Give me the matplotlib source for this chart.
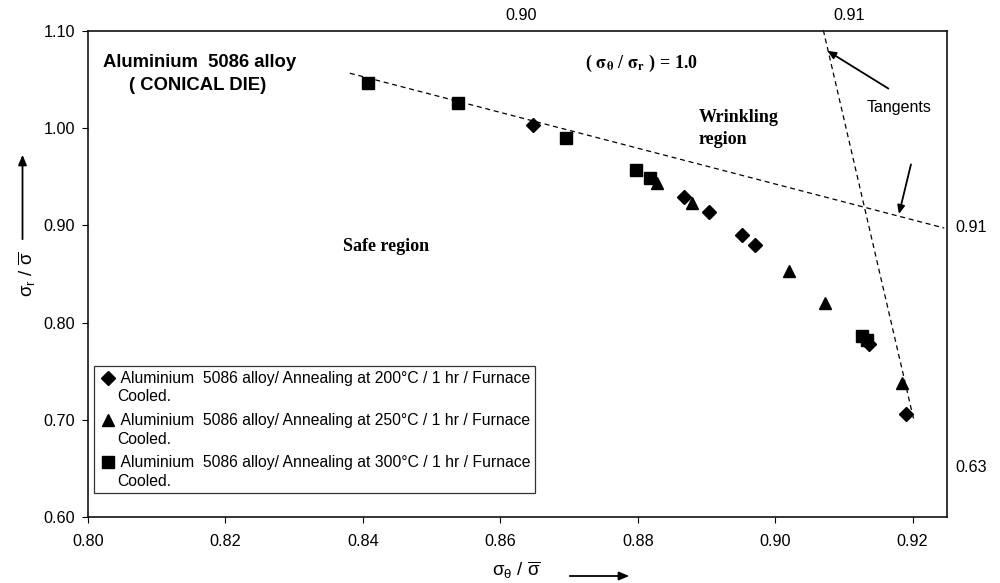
import numpy as np
import matplotlib
matplotlib.use("Agg")
import matplotlib.pyplot as plt
from matplotlib.legend_handler import HandlerLine2D

# ---- data ----
x_200 = [0.8648, 0.8867, 0.8903, 0.8952, 0.8970, 0.9137, 0.9191]
y_200 = [1.003, 0.929, 0.914, 0.890, 0.880, 0.778, 0.7056]

x_250 = [0.8828, 0.8879, 0.9020, 0.9073, 0.9185]
y_250 = [0.944, 0.923, 0.853, 0.820, 0.738]

x_300 = [0.8407, 0.8538, 0.8696, 0.8798, 0.8818, 0.9126, 0.9133]
y_300 = [1.047, 1.026, 0.990, 0.9566, 0.9487, 0.786, 0.782]

tangent1_x = [0.8381, 0.9246]
tangent1_y = [1.0566, 0.8973]
tangent2_x = [0.9070, 0.9202]
tangent2_y = [1.101, 0.699]

x_ticks = [0.80, 0.82, 0.84, 0.86, 0.88, 0.90, 0.92]
y_ticks = [0.60, 0.70, 0.80, 0.90, 1.00, 1.10]

labels = [
    " Aluminium  5086 alloy/ Annealing at 200\u00b0C / 1 hr / Furnace\nCooled.",
    " Aluminium  5086 alloy/ Annealing at 250\u00b0C / 1 hr / Furnace\nCooled.",
    " Aluminium  5086 alloy/ Annealing at 300\u00b0C / 1 hr / Furnace\nCooled.",
]

SANS = "Liberation Sans"
SERIF = "Liberation Serif"
plt.rcParams["font.family"] = [SANS, "DejaVu Sans"]

fig = plt.figure(figsize=(10, 5.83), dpi=100)
ax = fig.add_axes([0.088, 0.1132, 0.859, 0.8336])

ax.plot(tangent1_x, tangent1_y, color="black", lw=0.9, ls=(0, (4, 3)))
ax.plot(tangent2_x, tangent2_y, color="black", lw=0.9, ls=(0, (4, 3)), clip_on=False)

h1, = ax.plot(x_200, y_200, ls="none", marker="D", ms=7, color="black", label=labels[0])
h2, = ax.plot(x_250, y_250, ls="none", marker="^", ms=9, color="black", label=labels[1])
h3, = ax.plot(x_300, y_300, ls="none", marker="s", ms=8, color="black", label=labels[2])

ax.set_xlim(0.80, 0.925)
ax.set_ylim(0.60, 1.10)
ax.set_xticks(x_ticks)
ax.set_yticks(y_ticks)
ax.set_xticklabels([f"{v:.2f}" for v in x_ticks])
ax.set_yticklabels([f"{v:.2f}" for v in y_ticks])
ax.tick_params(axis="both", direction="out", length=4, width=0.8, labelsize=11.7,
               top=False, right=False)
ax.tick_params(axis="x", pad=8.5)
ax.tick_params(axis="y", pad=5.5)
for s in ax.spines.values():
    s.set_linewidth(1.2)
    s.set_color("#111111")


class FirstLineHandler(HandlerLine2D):
    def create_artists(self, legend, orig_handle, xdescent, ydescent, width,
                       height, fontsize, trans):
        arts = super().create_artists(legend, orig_handle, xdescent, ydescent,
                                      width, height, fontsize, trans)
        for a in arts:
            a.set_ydata(np.asarray(a.get_ydata(), dtype=float) + 0.65 * fontsize)
        return arts


leg = ax.legend(handles=[h1, h2, h3], loc="upper left",
                bbox_to_anchor=(0.007, 0.3107), borderaxespad=0,
                prop={"family": SANS, "size": 11.3}, frameon=True, fancybox=False,
                edgecolor="#333333", framealpha=1, borderpad=0.3,
                handlelength=1.15, handletextpad=0.0, labelspacing=0.55,
                numpoints=1,
                handler_map={h1: FirstLineHandler(), h2: FirstLineHandler(),
                             h3: FirstLineHandler()})
leg.get_frame().set_linewidth(0.9)
for t in leg.get_texts():
    t.set_linespacing(1.3)

# in-plot texts
ax.text(0.0175, 0.936, "Aluminium  5086 alloy", transform=ax.transAxes,
        ha="left", va="center", fontsize=13.3, fontweight="bold", family=SANS)
ax.text(0.128, 0.887, "( CONICAL DIE)", transform=ax.transAxes,
        ha="center", va="center", fontsize=13.3, fontweight="bold", family=SANS)
ax.text(0.644, 0.934, r"( $\mathbf{\sigma_\theta}$ / $\mathbf{\sigma_r}$ ) = 1.0",
        transform=ax.transAxes, ha="center", va="center", fontsize=13,
        fontweight="bold", family=SERIF, math_fontfamily="stix")
ax.text(0.711, 0.7994, "Wrinkling\nregion", transform=ax.transAxes,
        ha="left", va="center", fontsize=13, fontweight="bold", family=SERIF,
        linespacing=1.42)
ax.text(0.2969, 0.5556, "Safe region", transform=ax.transAxes,
        ha="left", va="center", fontsize=13, fontweight="bold", family=SERIF)
ax.text(0.9441, 0.8416, "Tangents", transform=ax.transAxes,
        ha="center", va="center", fontsize=11.5, family=SANS)

arrow_kw = dict(arrowstyle="-|>,head_length=0.5,head_width=0.22", color="black", lw=1.3)
ax.annotate("", xy=(0.858, 0.9623), xytext=(0.9345, 0.8786),
            xycoords="axes fraction", textcoords="axes fraction", arrowprops=arrow_kw)
ax.annotate("", xy=(0.9433, 0.6179), xytext=(0.9588, 0.7311),
            xycoords="axes fraction", textcoords="axes fraction", arrowprops=arrow_kw)

# secondary value labels
fig.text(0.521, 1 - 15 / 583, "0.90", ha="center", va="center", fontsize=11.7, family=SANS)
fig.text(0.849, 1 - 15 / 583, "0.91", ha="center", va="center", fontsize=11.7, family=SANS)
fig.text(0.955, 1 - 228 / 583, "0.91", ha="left", va="center", fontsize=11.7, family=SANS)
fig.text(0.955, 1 - 467 / 583, "0.63", ha="left", va="center", fontsize=11.7, family=SANS)

# axis labels with arrows
fig.text(0.516, 1 - 570 / 583, r"$\mathregular{\sigma_\theta}$ / $\mathregular{\overline{\sigma}}$",
         ha="center", va="center", fontsize=13.5, family=SANS)
fig.text(0.027, 1 - 274 / 583, r"$\mathregular{\sigma_r}$ / $\mathregular{\overline{\sigma}}$",
         ha="center", va="center", fontsize=13.5, family=SANS, rotation=90)
ax_arrow = dict(arrowstyle="-|>,head_length=0.6,head_width=0.25", color="black", lw=1.3)
fig.add_artist(matplotlib.patches.FancyArrowPatch(
    (0.567, 1 - 576 / 583), (0.632, 1 - 576 / 583), transform=fig.transFigure,
    **ax_arrow, mutation_scale=10))
fig.add_artist(matplotlib.patches.FancyArrowPatch(
    (0.0225, 1 - 242 / 583), (0.0225, 1 - 152 / 583), transform=fig.transFigure,
    **ax_arrow, mutation_scale=10))

fig.savefig("out.png", dpi=100)
